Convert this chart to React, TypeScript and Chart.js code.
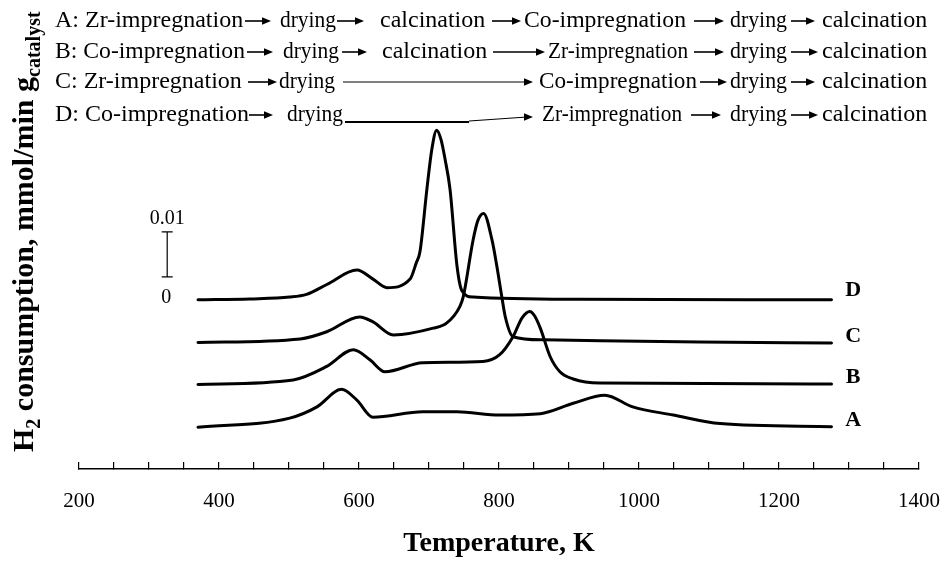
import React, { useEffect, useRef } from 'react';
import { Chart, registerables } from 'chart.js';

Chart.register(...registerables);

// ---------- data ----------
const seriesNames = ['A', 'B', 'C', 'D'];
// vertical shift of each trace (mmol/min g)
const offsets = [0.0093, 0.0188, 0.028, 0.0376];

const tempA = [370, 501, 540, 575, 597, 620, 691, 740, 801, 859, 906, 951, 991, 1049, 1116, 1275];
const sigA = [0, 0.002, 0.0045, 0.0084, 0.006, 0.0022, 0.0034, 0.0034, 0.0027, 0.003, 0.0053, 0.0071, 0.0045, 0.0027, 0.0008, 0.0001];

const tempB = [370, 506, 554, 592, 616, 637, 691, 777, 801, 820, 833, 844, 851, 859, 873, 887, 906, 944, 1275];
const sigB = [0, 0.001, 0.004, 0.0077, 0.0054, 0.0028, 0.0048, 0.0051, 0.0066, 0.0106, 0.0148, 0.0162, 0.0152, 0.0125, 0.0062, 0.0028, 0.0012, 0.0003, 0.0001];

const tempC = [370, 516, 554, 601, 620, 649, 706, 725, 744, 749, 763, 770, 778, 790, 797, 804, 809, 820, 863, 1087, 1275];
const sigC = [0.0001, 0.0009, 0.0025, 0.0058, 0.0047, 0.0018, 0.0033, 0.0044, 0.0081, 0.0103, 0.0229, 0.0273, 0.0288, 0.0229, 0.017, 0.0103, 0.0058, 0.0014, 0.0007, 0.0002, 0];

const tempD = [370, 444, 501, 525, 554, 597, 620, 640, 673, 682, 687, 697, 704, 711, 717, 723, 730, 740, 747, 763, 916, 1275];
const sigD = [0, 0.0002, 0.0006, 0.0012, 0.0034, 0.0066, 0.0046, 0.0027, 0.0046, 0.0083, 0.0106, 0.0246, 0.0334, 0.0377, 0.0357, 0.0312, 0.0246, 0.0075, 0.002, 0.0006, 0.0001, 0];

const temps = [tempA, tempB, tempC, tempD];
const signals = [sigA, sigB, sigC, sigD];

const xMin = 200;
const xMax = 1400;
const xTickValues = [200, 250, 300, 350, 400, 450, 500, 550, 600, 650, 700, 750, 800, 850, 900, 950, 1000, 1050, 1100, 1150, 1200, 1250, 1300, 1350, 1400];
const xTickLabels = [200, 400, 600, 800, 1000, 1200, 1400];
const yMax = 0.078;

const scaleBarBase = 0.0427;
const scaleBarSize = 0.01;
const scaleBarTemp = 326;
const scaleBarLabels = ['0.01', '0'];
const labelTemp = 1306;

const xTitle = 'Temperature, K';

// header: procedures ("→" arrow, "⟶" long thin arrow, "⎯⟶" long line at baseline ending in an arrow)
const headerRows = [
  ['A: Zr-impregnation', '→', 'drying', '→', 'calcination', '→', 'Co-impregnation', '→', 'drying', '→', 'calcination'],
  ['B: Co-impregnation', '→', 'drying', '→', 'calcination', '→', 'Zr-impregnation', '→', 'drying', '→', 'calcination'],
  ['C: Zr-impregnation', '→', 'drying', '⟶', 'Co-impregnation', '→', 'drying', '→', 'calcination'],
  ['D: Co-impregnation', '→', 'drying', '⎯⟶', 'Zr-impregnation', '→', 'drying', '→', 'calcination'],
];

// ---------- layout (pixels) ----------
// text: [x, maxWidth]; arrows: [x1, x2]
const headerPos = [
  [[55, 190], [245, 271], [280, 56], [337, 364], [380, 110], [492, 521], [524, 162], [694, 724], [730, 57], [791, 815], [822, 106]],
  [[55, 190], [247, 273], [283, 56], [342, 367], [382, 108], [493, 545], [548, 140], [694, 724], [730, 57], [791, 818], [822, 106]],
  [[55, 200], [248, 277], [279, 56], [343, 533], [539, 158], [700, 727], [730, 57], [791, 815], [822, 106]],
  [[55, 196], [249, 273], [287, 56], [345, 533], [542, 140], [691, 721], [730, 57], [791, 818], [822, 106]],
];
const headerBaselines = [27, 58, 88, 121];
const SERIF = '"Liberation Serif", "Times New Roman", serif';

function drawHead(ctx: CanvasRenderingContext2D, x2: number, y: number) {
  ctx.beginPath();
  ctx.moveTo(x2, y);
  ctx.lineTo(x2 - 9, y - 3.8);
  ctx.lineTo(x2 - 9, y + 3.8);
  ctx.closePath();
  ctx.fill();
}

function drawArrow(ctx: CanvasRenderingContext2D, x1: number, x2: number, y: number, lw: number) {
  ctx.beginPath();
  ctx.lineWidth = lw;
  ctx.moveTo(x1, y);
  ctx.lineTo(x2 - 6, y);
  ctx.stroke();
  drawHead(ctx, x2, y);
}

const decorPlugin = {
  id: 'decor',
  afterDraw(chart: any) {
    const ctx: CanvasRenderingContext2D = chart.ctx;
    const xs = chart.scales.x;
    const ys = chart.scales.y;
    ctx.save();
    ctx.fillStyle = '#000';
    ctx.strokeStyle = '#000';

    // header rows
    headerRows.forEach((row, r) => {
      const base = headerBaselines[r];
      const pos = headerPos[r];
      row.forEach((seg, i) => {
        const p = pos[i];
        if (seg === '→' || seg === '⟶') {
          drawArrow(ctx, p[0], p[1], base - 6, seg === '⟶' ? 1 : 1.6);
        } else if (seg === '⎯⟶') {
          const mid = p[0] + (p[1] - p[0]) * 0.66;
          ctx.beginPath();
          ctx.lineWidth = 1.8;
          ctx.moveTo(p[0], base + 1);
          ctx.lineTo(mid, base + 1);
          ctx.stroke();
          ctx.beginPath();
          ctx.lineWidth = 1.2;
          ctx.moveTo(mid, base);
          ctx.lineTo(p[1] - 6, base - 4);
          ctx.stroke();
          drawHead(ctx, p[1], base - 4);
        } else {
          ctx.font = `24px ${SERIF}`;
          ctx.textBaseline = 'alphabetic';
          ctx.textAlign = 'left';
          ctx.fillText(seg, p[0], base, p[1]);
        }
      });
    });

    // y axis title (rotated, with subscripts)
    ctx.save();
    ctx.translate(33, 452);
    ctx.rotate(-Math.PI / 2);
    ctx.textBaseline = 'alphabetic';
    ctx.textAlign = 'left';
    const parts = [
      { t: 'H', s: false },
      { t: '2', s: true },
      { t: ' consumption, mmol/min g', s: false },
      { t: 'catalyst', s: true },
    ];
    let px = 0;
    parts.forEach((pt) => {
      ctx.font = pt.s ? `bold 20px ${SERIF}` : `bold 30px ${SERIF}`;
      ctx.fillText(pt.t, px, pt.s ? 7 : 0);
      px += ctx.measureText(pt.t).width;
    });
    ctx.restore();

    // scale bar
    const bx = xs.getPixelForValue(scaleBarTemp);
    const by0 = ys.getPixelForValue(scaleBarBase);
    const by1 = ys.getPixelForValue(scaleBarBase + scaleBarSize);
    ctx.lineWidth = 1.2;
    ctx.beginPath();
    ctx.moveTo(bx, by0);
    ctx.lineTo(bx, by1);
    ctx.moveTo(bx - 5.5, by0);
    ctx.lineTo(bx + 5.5, by0);
    ctx.moveTo(bx - 5.5, by1);
    ctx.lineTo(bx + 5.5, by1);
    ctx.stroke();
    ctx.font = `20px ${SERIF}`;
    ctx.textAlign = 'center';
    ctx.textBaseline = 'middle';
    ctx.fillText(scaleBarLabels[0], bx, by1 - 13);
    ctx.fillText(scaleBarLabels[1], bx - 1, by0 + 21);

    // curve labels
    ctx.font = `bold 22px ${SERIF}`;
    ctx.textAlign = 'center';
    ctx.textBaseline = 'middle';
    const lx = xs.getPixelForValue(labelTemp);
    seriesNames.forEach((n, i) => {
      const y = ys.getPixelForValue(offsets[i]) - (n === 'D' ? 9 : 7);
      ctx.fillText(n, lx, y);
    });

    ctx.restore();
  },
};

export default function App() {
  const ref = useRef<HTMLCanvasElement | null>(null);

  useEffect(() => {
    if (!ref.current) return;
    const datasets = seriesNames.map((name, i) => ({
      label: name,
      data: temps[i].map((t, j) => ({ x: t, y: signals[i][j] + offsets[i] })),
      borderColor: '#000',
      borderWidth: 3,
      pointRadius: 0,
      fill: false,
      cubicInterpolationMode: 'monotone' as const,
      borderCapStyle: 'round' as const,
    }));
    const chart = new Chart(ref.current, {
      type: 'line',
      data: { datasets },
      options: {
        animation: false,
        responsive: false,
        devicePixelRatio: 1,
        layout: { padding: { left: 79, right: 25, top: 118, bottom: 0 } },
        plugins: { legend: { display: false }, tooltip: { enabled: false } },
        scales: {
          x: {
            type: 'linear',
            min: xMin,
            max: xMax,
            afterBuildTicks: (s: any) => {
              s.ticks = xTickValues.map((v) => ({ value: v }));
            },
            afterFit: (s: any) => {
              s.height = 94;
              s.paddingLeft = 0;
              s.paddingRight = 0;
            },
            ticks: {
              autoSkip: false,
              maxRotation: 0,
              color: '#000',
              padding: 27,
              font: { family: SERIF, size: 21 },
              callback: (v: any) => (xTickLabels.includes(Number(v)) ? String(v) : ''),
            },
            grid: {
              drawOnChartArea: false,
              drawTicks: true,
              tickLength: -7,
              color: '#000',
              lineWidth: 1.2,
            },
            border: { display: true, color: '#000', width: 1.5 },
            title: {
              display: true,
              text: xTitle,
              color: '#000',
              font: { family: SERIF, size: 28, weight: 'bold' },
              padding: { top: 4, bottom: 2 },
            },
          },
          y: { type: 'linear', display: false, min: 0, max: yMax },
        },
      },
      plugins: [decorPlugin],
    });
    return () => chart.destroy();
  }, []);

  return (
    <div style={{ position: 'absolute', left: 0, top: 0, width: 944, height: 563, background: '#fff' }}>
      <canvas ref={ref} width={944} height={563} />
    </div>
  );
}
